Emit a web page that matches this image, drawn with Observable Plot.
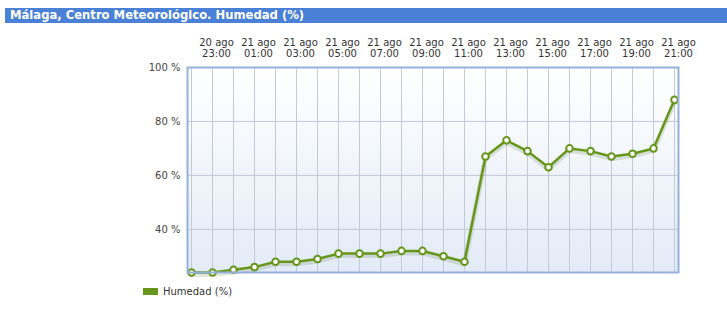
<!DOCTYPE html>
<html>
<head>
<meta charset="utf-8">
<script src="https://cdn.jsdelivr.net/npm/d3@7"></script>
<script src="https://cdn.jsdelivr.net/npm/@observablehq/plot@0.6"></script>
<style>
  body { margin: 0; background: #fff; font-family: "DejaVu Sans", Verdana, sans-serif; }
  #wrap { position: relative; width: 727px; height: 318px; overflow: hidden; }
  #title { position: absolute; left: 5px; top: 8px; width: 722px; height: 15px; background: #4a80d5;
           color: #fff; font: bold 11.6px "DejaVu Sans", Verdana, sans-serif; line-height: 15px; padding-left: 5px; box-sizing: border-box; }
  #chart { position: absolute; left: 0; top: 24px; }
  #legend { position: absolute; left: 143px; top: 286px; font: 10px "DejaVu Sans", Verdana, sans-serif; color: #333; display: flex; align-items: center; }
  #legend .sw { width: 15px; height: 7px; background: #669619; margin-right: 5px; }
</style>
</head>
<body>
<div id="wrap">
  <div id="title">Málaga, Centro Meteorológico. Humedad (%)</div>
  <div id="chart"></div>
  <div id="legend"><div class="sw"></div><span>Humedad (%)</span></div>
</div>
<script>
const hours = [
  "20 ago 22:00", "20 ago 23:00", "21 ago 00:00", "21 ago 01:00", "21 ago 02:00", "21 ago 03:00",
  "21 ago 04:00", "21 ago 05:00", "21 ago 06:00", "21 ago 07:00", "21 ago 08:00", "21 ago 09:00",
  "21 ago 10:00", "21 ago 11:00", "21 ago 12:00", "21 ago 13:00", "21 ago 14:00", "21 ago 15:00",
  "21 ago 16:00", "21 ago 17:00", "21 ago 18:00", "21 ago 19:00", "21 ago 20:00", "21 ago 21:00"
];
const humedad = [24, 24, 25, 26, 28, 28, 29, 31, 31, 31, 32, 32, 30, 28, 67, 73, 69, 63, 70, 69, 67, 68, 70, 88];
const xTickLabels = hours.filter((d, i) => i % 2 === 1);
const yTicks = [40, 60, 80, 100];

const data = hours.map((h, i) => ({hora: h, valor: humedad[i]}));
const green = "#669619";

const plot = Plot.plot({
  width: 727,
  height: 260,
  marginLeft: 187,
  marginRight: 49,
  marginTop: 43,
  marginBottom: 12,
  style: {fontFamily: "DejaVu Sans, Verdana, sans-serif", fontSize: "10px", color: "#333", background: "transparent"},
  x: {type: "point", domain: hours, padding: 0},
  y: {domain: [24, 100]},
  marks: [
    Plot.frame({fill: "url(#bggrad)", stroke: null}),
    Plot.gridX(hours, {stroke: "#c2c9d7", strokeOpacity: 1, strokeWidth: 1}),
    Plot.gridY(yTicks, {stroke: "#c2c9d7", strokeOpacity: 1, strokeWidth: 1}),
    Plot.axisX(xTickLabels, {
      anchor: "top", tickSize: 0, tickPadding: 11, dx: 4,
      tickFormat: d => d.replace(/ (\d\d:\d\d)$/, "\n$1"),
      fill: "#333", fontSize: 10, label: null, lineHeight: 1.1
    }),
    Plot.axisY(yTicks, {anchor: "left", tickSize: 0, tickPadding: 7, tickFormat: d => d + " %", fill: "#444", fontSize: 10, label: null}),
    Plot.line(data, {x: "hora", y: "valor", stroke: "#3a5a10", strokeOpacity: 0.15, strokeWidth: 5, dy: 2}),
    Plot.line(data, {x: "hora", y: "valor", stroke: green, strokeWidth: 2.5}),
    Plot.dot(data, {x: "hora", y: "valor", r: 3.3, fill: "#fff", stroke: green, strokeWidth: 2}),
    Plot.frame({stroke: "#94b1dc", strokeWidth: 2})
  ]
});

const defs = document.createElementNS("http://www.w3.org/2000/svg", "defs");
defs.innerHTML = '<linearGradient id="bggrad" x1="0" y1="0" x2="0" y2="1">' +
  '<stop offset="0" stop-color="#ffffff"/><stop offset="1" stop-color="#e3ebf7"/></linearGradient>';
plot.insertBefore(defs, plot.firstChild);
document.getElementById("chart").appendChild(plot);
</script>
</body>
</html>
